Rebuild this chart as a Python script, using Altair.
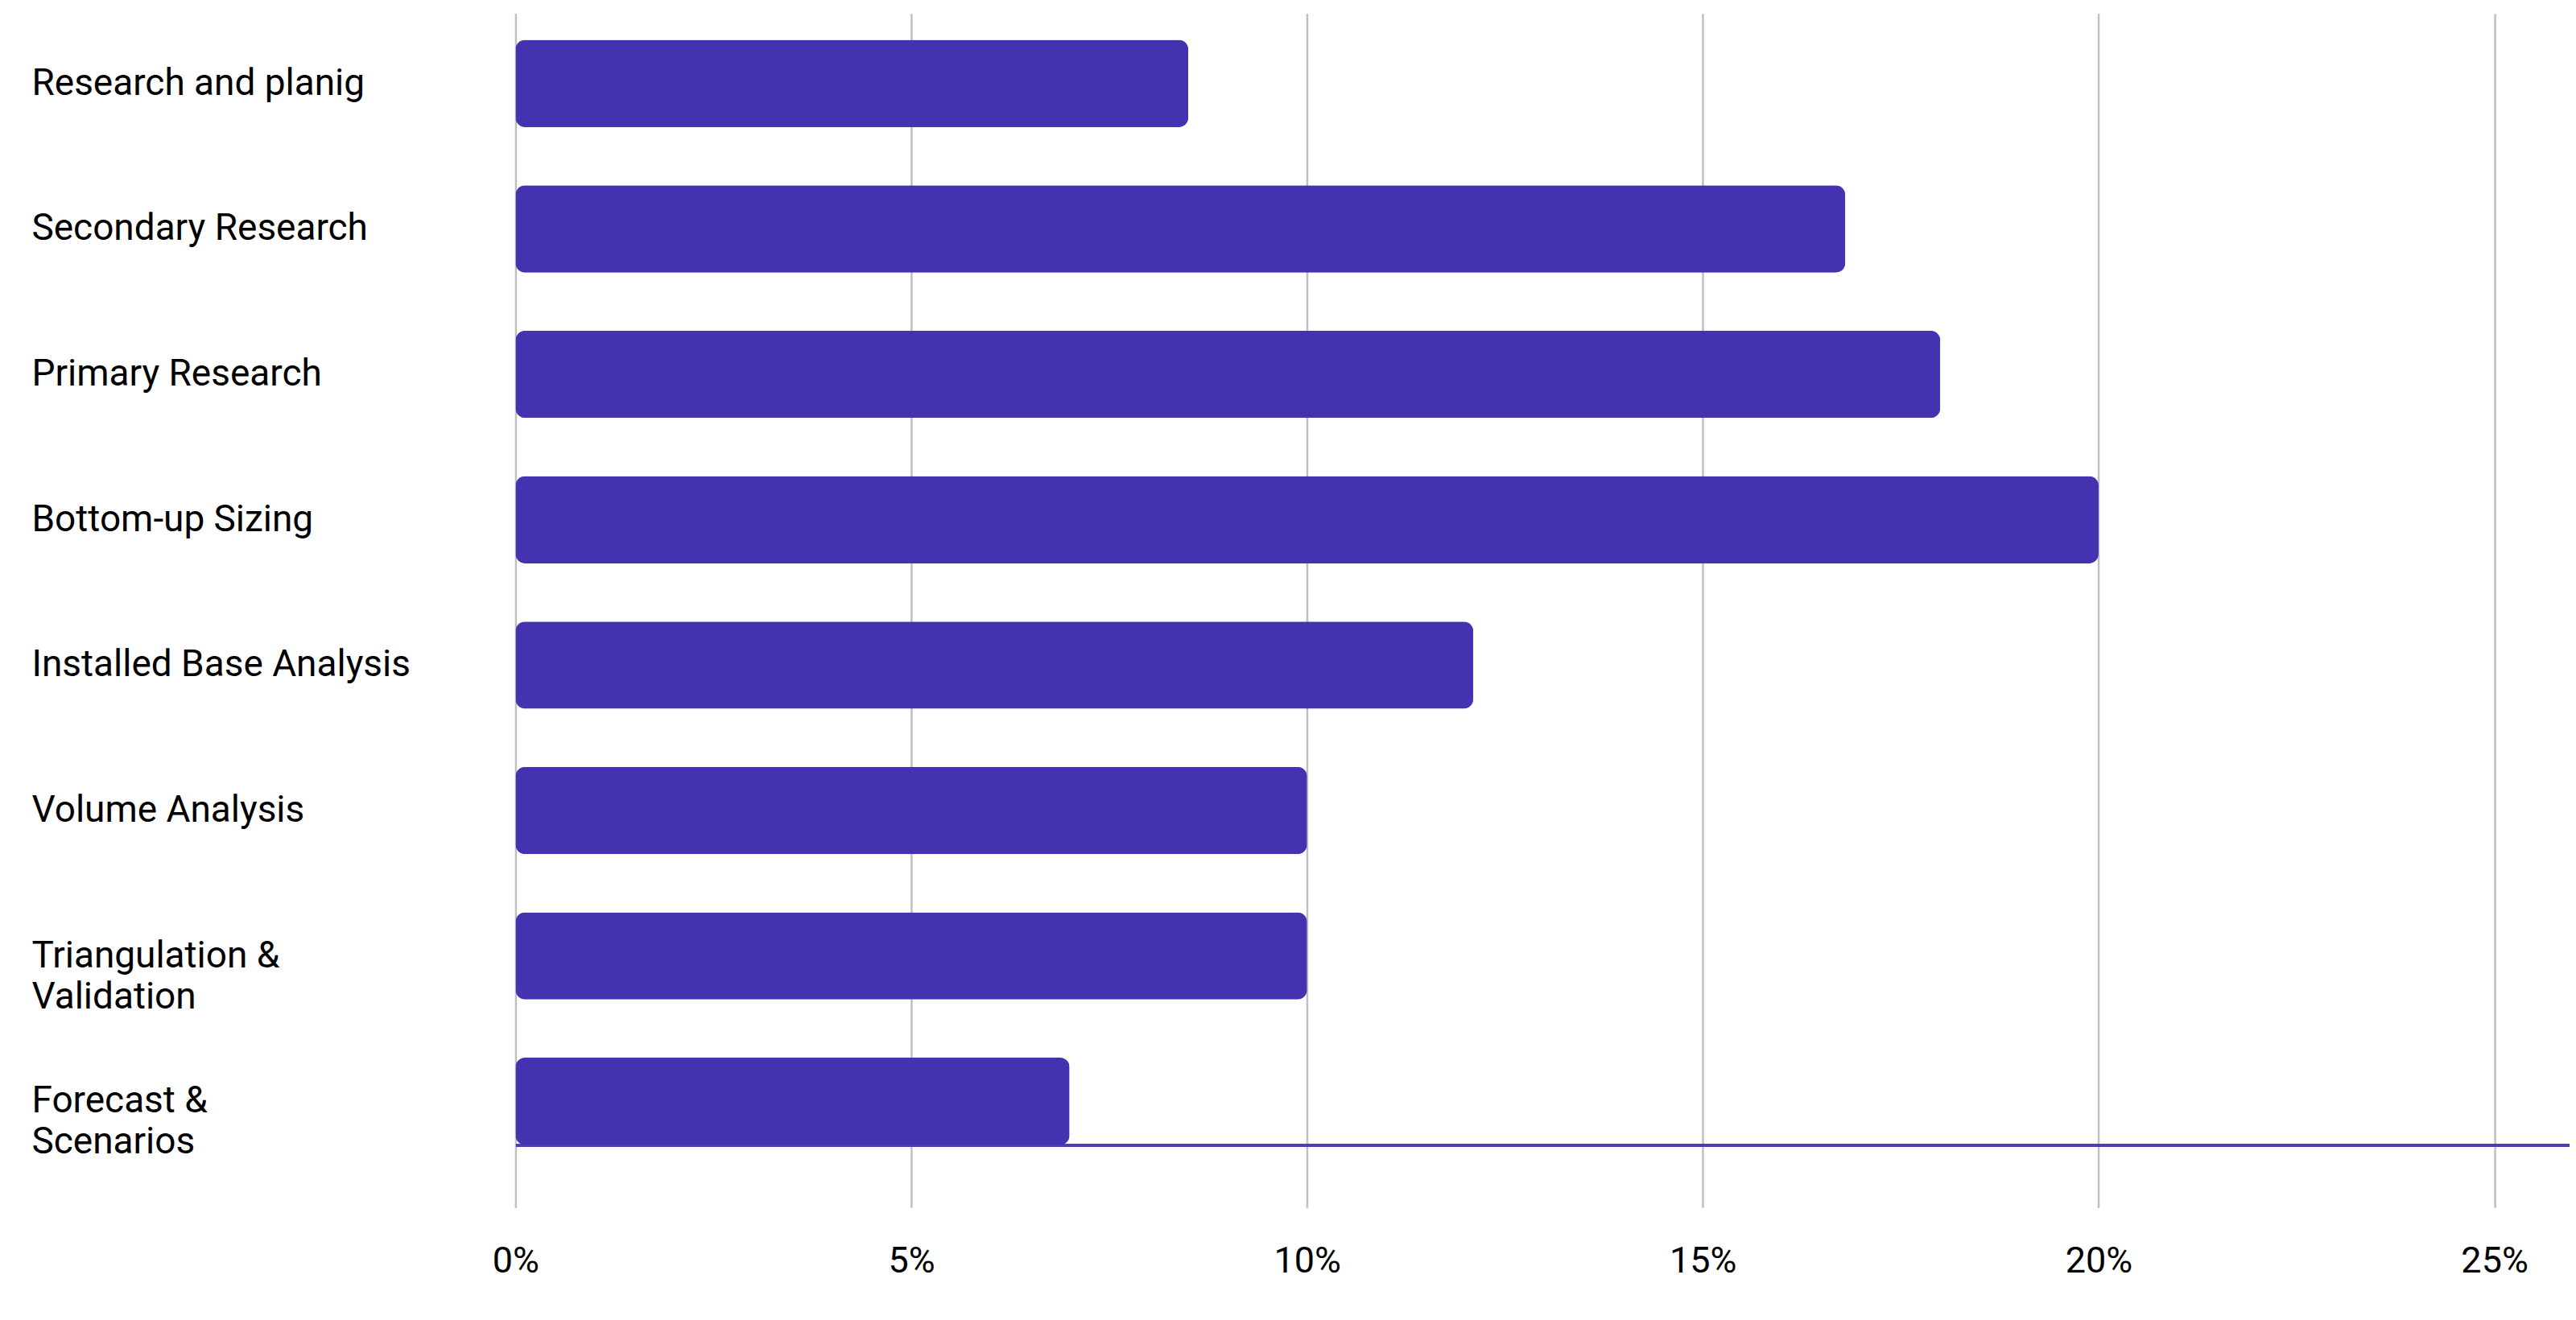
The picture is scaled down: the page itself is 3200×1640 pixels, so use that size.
import altair as alt
import pandas as pd

categories = [
    "Research and planig",
    "Secondary Research",
    "Primary Research",
    "Bottom-up Sizing",
    "Installed Base Analysis",
    "Volume Analysis",
    "Triangulation &|Validation",
    "Forecast &|Scenarios",
]
shares = [0.085, 0.168, 0.180, 0.200, 0.121, 0.100, 0.100, 0.070]
tick_values = [0, 0.05, 0.10, 0.15, 0.20, 0.25]

df = pd.DataFrame({"step": categories, "share": shares})

BAR = "#4333B0"
GRID = "#bfbfbf"
FONT = "Roboto"

chart = (
    alt.Chart(df)
    .mark_bar(color=BAR, cornerRadius=12)
    .encode(
        x=alt.X(
            "share:Q",
            scale=alt.Scale(domain=[0, 0.2595], nice=False, zero=True),
            axis=alt.Axis(
                values=tick_values,
                format=".0%",
                title=None,
                grid=True,
                gridColor=GRID,
                gridWidth=2.5,
                domain=True,
                domainColor="#4a3db5",
                domainWidth=4,
                ticks=True,
                tickColor=GRID,
                tickWidth=2.5,
                tickSize=78,
                labelPadding=66,
                labelBaseline="middle",
                labelFont=FONT,
                labelFontSize=45,
                labelColor="#000000",
                labelFlush=False,
            ),
        ),
        y=alt.Y(
            "step:N",
            sort=categories,
            scale=alt.Scale(paddingInner=0.4, paddingOuter=0.091, align=1),
            axis=alt.Axis(
                title=None,
                domain=False,
                ticks=False,
                labelAlign="left",
                labelPadding=602,
                labelLimit=0,
                labelFont=FONT,
                labelFontSize=46,
                labelColor="#000000",
                labelLineHeight=51,
                labelExpr="split(datum.label, '|')",
            ),
        ),
    )
    .properties(
        width=2554,
        height=1407,
        padding={"left": 31, "top": 8, "right": 0, "bottom": 24},
        background="#ffffff",
    )
    .configure_view(stroke=None)
)

chart.save("out.html", embed_options={"renderer": "svg", "actions": False})
